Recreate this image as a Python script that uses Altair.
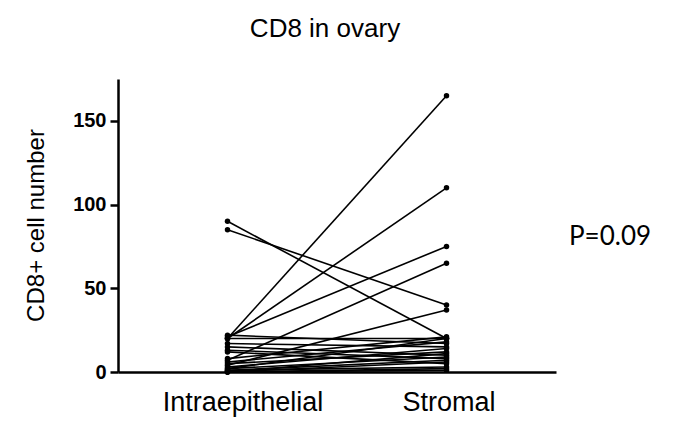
import altair as alt
import pandas as pd

# Paired values (Intraepithelial, Stromal) per sample
intraepithelial = [20, 20, 21, 7, 90, 85, 4, 20, 22, 17, 15, 13, 12, 8, 6, 5, 3, 2, 1, 1, 0, 0, 0, 2, 0]
stromal = [165, 110, 75, 65, 20, 40, 37, 20, 17, 15, 10, 8, 5, 21, 18, 12, 14, 9, 7, 3, 11, 6, 2, 20, 1]
groups = ["Intraepithelial", "Stromal"]
y_ticks = [0, 50, 100, 150]
p_label = ["P=0.09"]

rows = []
for i, (a, b) in enumerate(zip(intraepithelial, stromal)):
    rows.append({"id": i, "group": groups[0], "value": a})
    rows.append({"id": i, "group": groups[1], "value": b})
df = pd.DataFrame(rows)

x_enc = alt.X(
    "group:N",
    sort=groups,
    scale=alt.Scale(type="point", padding=0.5),
    axis=alt.Axis(
        title=None,
        labelAngle=0,
        ticks=False,
        domainWidth=2.5,
        domainColor="black",
        labelFont="Liberation Sans",
        labelFontSize=27,
        labelColor="black",
        labelPadding=17,
        labelOffset={"condition": {"test": "datum.value === 'Intraepithelial'", "value": 15}, "value": 2},
    ),
)
y_enc = alt.Y(
    "value:Q",
    scale=alt.Scale(domain=[0, 175], nice=False),
    axis=alt.Axis(
        values=y_ticks,
        title="CD8+ cell number",
        titleFont="Liberation Sans",
        titleFontSize=24,
        titleFontWeight="normal",
        titleColor="black",
        titleX=-75,
        titleY=146,
        titleBaseline="alphabetic",
        titleAlign="center",
        grid=False,
        domainWidth=2.5,
        domainColor="black",
        tickWidth=2.5,
        tickSize=8,
        tickColor="black",
        labelFont="Liberation Sans",
        labelFontSize=20,
        labelFontWeight="bold",
        labelColor="black",
        labelPadding=4,
    ),
)

base = alt.Chart(df)
lines = base.mark_line(color="black", strokeWidth=1.6).encode(x=x_enc, y=y_enc, detail="id:N")
points = base.mark_circle(color="black", size=30, opacity=1).encode(x=x_enc, y=y_enc)

ptext = alt.Chart(pd.DataFrame({"t": p_label})).mark_text(
    font="Lato", fontSize=26, align="center", baseline="alphabetic", color="black"
).encode(text="t:N", x=alt.value(492), y=alt.value(166))

chart = (
    alt.layer(lines, points, ptext)
    .properties(
        width=438,
        height=293,
        autosize=alt.AutoSizeParams(type="none"),
        padding={"left": 110, "top": 71, "right": 109, "bottom": 47},
        title=alt.TitleParams(
            "CD8 in ovary",
            font="Liberation Sans",
            fontSize=26,
            fontWeight="normal",
            color="black",
            anchor="middle",
            baseline="alphabetic",
            offset=16,
            dx=-12,
        ),
    )
    .configure_view(stroke=None)
)

chart.save("out.html", embed_options={"renderer": "svg", "actions": False})
